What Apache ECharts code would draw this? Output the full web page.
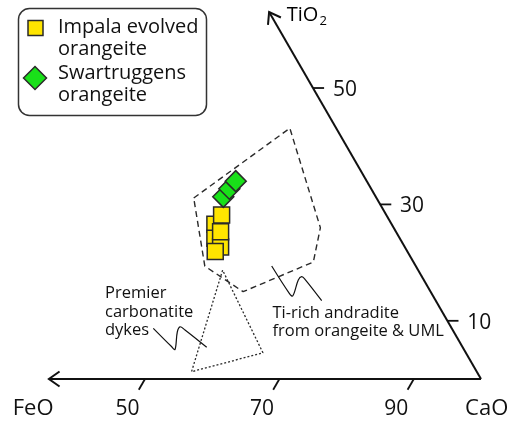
<!DOCTYPE html>
<html><head><meta charset="utf-8">
<script src="https://cdn.jsdelivr.net/npm/echarts@6/dist/echarts.min.js"></script>
<style>html,body{margin:0;padding:0;background:#fff}#c{width:512px;height:422px}</style>
</head><body><div id="c"></div>
<script>
// Ternary compositions given as [CaO, TiO2] (wt%), FeO = 100 - CaO - TiO2
const impala = [[47.1,26.6],[48.3,24.2],[49.9,22.7],[47.3,28.2],[48.6,25.3],[49.5,21.9]];
const swartruggens = [[46.0,31.3],[46.2,32.7],[46.5,34.0]];
const andraditeField = [[41.7,31.1],[50.0,43.1],[63.1,26.0],[65.0,20.1],[57.1,15.0],[49.2,19.4]];
const premierField = [[52.2,18.7],[56.3,1.25],[65.3,4.5]];
const baseTicks = [50,70,90];      // CaO ticks on the FeO–CaO side
const tiTicks = [10,30,50];        // TiO2 ticks on the CaO–TiO2 side
const baseAxisEnd = 35.7;          // CaO value where the FeO arrow ends
const tiAxisEnd = 63.06;           // TiO2 value where the TiO2 arrow ends

const S = Math.sqrt(3)/2;
const xy = (c, t) => [c + t/2, t*S];

const K = 6.72, PX0 = -191, PY0 = 379; // frame: 100 wt% = 672 px side
const FONT = '"Open Sans", "Noto Sans", sans-serif';
const BLACK = '#111';

const chart = echarts.init(document.getElementById('c'));
const line = (pts, style, z) => ({type:'line', data: pts, symbol:'none', silent:true, animation:false, z: z||2,
  lineStyle: Object.assign({color: BLACK, width: 2}, style)});

const series = [];
series.push(line([xy(baseAxisEnd,0), xy(100,0)], {}));
series.push(line([xy(100,0), xy(100-tiAxisEnd, tiAxisEnd)], {}));
baseTicks.forEach(v => series.push(line([xy(v,0), xy(v,-1.85)], {width:1.8})));
tiTicks.forEach(v => series.push(line([xy(100-v,v), xy(100-v+1.65,v)], {width:1.8})));
series.push(line(andraditeField.concat([andraditeField[0]]).map(p => xy(p[0],p[1])), {width:1.4, color:'#2a2a2a', type:[6,4]}, 3));
series.push(line(premierField.concat([premierField[0]]).map(p => xy(p[0],p[1])), {width:1.3, color:'#2a2a2a', type:[2,2]}, 3));
series.push({type:'scatter', name:'Impala evolved orangeite', data: impala.map(p => xy(p[0],p[1])), symbol:'rect', symbolSize:16,
  itemStyle:{color:'#ffe500', borderColor:'#2a2a2a', borderWidth:1.5, opacity:1}, z:5, animation:false});
series.push({type:'scatter', name:'Swartruggens orangeite', data: swartruggens.map(p => xy(p[0],p[1])), symbol:'diamond', symbolSize:21,
  itemStyle:{color:'#19e019', borderColor:'#2a2a2a', borderWidth:1.5, opacity:1}, z:6, animation:false});

chart.setOption({
  animation:false,
  backgroundColor:'#fff',
  grid:{left:0, right:0, top:0, bottom:0},
  xAxis:{type:'value', min:(0-PX0)/K, max:(512-PX0)/K, show:false},
  yAxis:{type:'value', min:(PY0-422)/K, max:PY0/K, show:false},
  series: series
});

function px(c,t){ return chart.convertToPixel({gridIndex:0}, xy(c,t)); }
function arrow(tip, back){ // back: unit vector pointing from tip back along the axis
  const L = 13, a = 35*Math.PI/180;
  const rot = (v,ang) => [v[0]*Math.cos(ang)-v[1]*Math.sin(ang), v[0]*Math.sin(ang)+v[1]*Math.cos(ang)];
  const r1 = rot(back, a), r2 = rot(back, -a);
  return {type:'polyline', silent:true, z:10, shape:{points:[[tip[0]+r1[0]*L, tip[1]+r1[1]*L], tip, [tip[0]+r2[0]*L, tip[1]+r2[1]*L]]},
    style:{stroke: BLACK, lineWidth:2, fill:null}};
}
const baseTip = px(baseAxisEnd,0), corner = px(100,0), tiTip = px(100-tiAxisEnd, tiAxisEnd);
const unit = (a,b) => { const d=[b[0]-a[0], b[1]-a[1]]; const l=Math.hypot(d[0],d[1]); return [d[0]/l, d[1]/l]; };
const tiTitle = px(100-tiAxisEnd+2.9, tiAxisEnd-0.55);

const txt = (x, y, s, size, extra) => ({type:'text', silent:true, z:10, x:x, y:y,
  style: Object.assign({text:s, fill:BLACK, font: size+'px '+FONT, verticalAlign:'middle', align:'left'}, extra||{})});
const ctxt = (p, s, size, dy) => txt(p[0], p[1] + (dy||0), s, size, {align:'center'});

const labels = [];
baseTicks.forEach(v => labels.push(ctxt(px(v,-5.2), String(v), 21)));
tiTicks.forEach(v => labels.push(ctxt(px(100-v+4.75, v), String(v), 21, 2)));
labels.push(ctxt(px(35.9,-5.1), 'FeO', 22));
labels.push(ctxt(px(103.4,-5.1), 'CaO', 22));

chart.setOption({
  graphic: labels.concat([
    arrow(baseTip, unit(baseTip, corner)),
    arrow(tiTip, unit(tiTip, corner)),
    {type:'text', silent:true, z:10, x: tiTitle[0], y: tiTitle[1],
      style:{text:'{a|TiO}{b|2}', verticalAlign:'middle', align:'left',
        rich:{a:{fontSize:20, fontFamily:FONT, color:BLACK}, b:{fontSize:13, fontFamily:FONT, color:BLACK, padding:[12,0,0,1]}}}},
    // legend
    {type:'rect', silent:true, z:8, shape:{x:18.5, y:8.5, width:188, height:107, r:11},
      style:{fill:'#fff', stroke:'#333', lineWidth:1.5}},
    {type:'rect', silent:true, z:9, shape:{x:28, y:20.5, width:15, height:15},
      style:{fill:'#ffe500', stroke:'#2a2a2a', lineWidth:1.5}},
    {type:'polygon', silent:true, z:9, shape:{points:[[35,66.5],[46.5,78],[35,89.5],[23.5,78]]},
      style:{fill:'#19e019', stroke:'#2a2a2a', lineWidth:1.5}},
    txt(58, 27, 'Impala evolved', 20),
    txt(58, 49, 'orangeite', 20),
    txt(58, 73, 'Swartruggens', 20),
    txt(58, 95, 'orangeite', 20),
    // annotations
    txt(105, 293.5, 'Premier', 16.5),
    txt(105, 312, 'carbonatite', 16.5),
    txt(105, 330.5, 'dykes', 16.5),
    txt(272.5, 313, 'Ti-rich andradite', 16.5),
    txt(272.5, 331.5, 'from orangeite & UML', 16.5),
    {type:'polyline', silent:true, z:9, shape:{smooth:0.35, points:[[153.3,328.3],[171.5,346.5],[175,349.5],[177.3,332],[180,326.8],[185,330],[206.7,347.3]]},
      style:{stroke:BLACK, lineWidth:1.2, fill:null}},
    {type:'polyline', silent:true, z:9, shape:{smooth:0.35, points:[[271.7,266],[289.3,293.3],[292.7,296],[298.3,280],[301.7,276.7],[305,279.3],[321.7,300.7]]},
      style:{stroke:BLACK, lineWidth:1.2, fill:null}}
  ])
});
</script>
</body></html>
